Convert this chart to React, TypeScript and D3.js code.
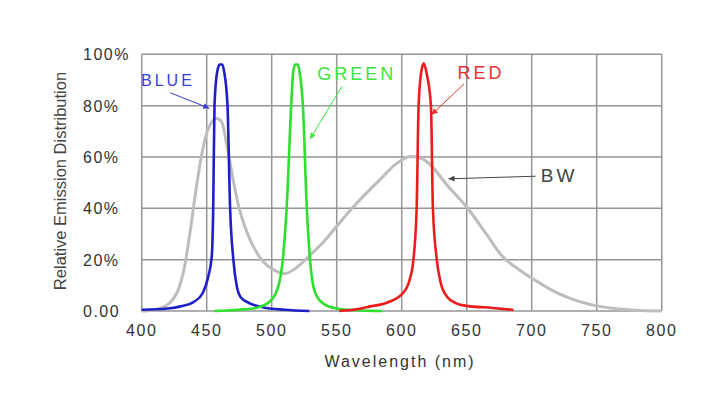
import React, { useEffect, useRef } from "react";
import * as d3 from "d3";

// wavelength (nm), relative emission (%)
const blue: [number, number][] = [
  [400, 0.5], [420, 1], [430, 1.8], [440, 3.5], [447, 7], [451, 13], [454, 22], [455, 40],
  [456, 80], [458, 93], [460, 96], [462, 96], [463.5, 93], [466, 80], [468, 40], [470.5, 20],
  [473, 10], [476, 5.5], [483, 3], [493, 1.5], [510, 0.5], [529, 0],
];
const green: [number, number][] = [
  [456, 0], [475, 0.5], [488, 1.2], [498, 3.5], [504, 8], [507, 14], [508.5, 20], [511.5, 40],
  [515, 80], [516.5, 93], [518, 96], [520, 96], [521.5, 93], [524, 80], [527, 40], [529.5, 20],
  [531.5, 11], [535, 5.5], [541, 2.5], [550, 1], [565, 0.3], [585, 0],
];
const red: [number, number][] = [
  [552, 0], [565, 0.7], [575, 1.7], [590, 3.5], [601, 7], [606, 12], [609, 20], [611.5, 40],
  [613, 80], [615, 93], [617, 96.5], [619, 93], [622.5, 80], [624, 40], [627, 20],
  [630, 11], [635, 5.5], [642, 3], [650, 2], [670, 1.2], [686, 0.4],
];
const bw: [number, number][] = [
  [400, 0], [410, 0.5], [420, 2.5], [427, 7], [432, 15], [437, 30], [442, 48], [447, 63],
  [452, 72], [457, 75], [461, 74], [465, 66], [470, 52], [475, 40], [480, 32], [486, 25],
  [493, 19.5], [500, 16.5], [510, 14.5], [518, 16.5], [530, 22], [540, 27], [550, 33],
  [560, 39], [573, 46], [583, 51], [595, 57], [605, 60], [615, 59.5], [622, 57], [635, 49],
  [650, 40.5], [665, 30], [678, 21], [690, 16.2], [701, 12.5], [715, 8.2], [729, 5],
  [740, 3.2], [750, 2], [765, 0.9], [780, 0.3], [800, 0],
];

const xTicks = [400, 450, 500, 550, 600, 650, 700, 750, 800];
const yTicks = [0, 20, 40, 60, 80, 100];
const yTickLabels = ["0.00", "20%", "40%", "60%", "80%", "100%"];

const series = [
  { name: "BW", data: bw, color: "#bdbdbd", width: 3, smooth: true },
  { name: "BLUE", data: blue, color: "#1f1fc8", width: 2.6, smooth: false },
  { name: "GREEN", data: green, color: "#2ee02e", width: 2.6, smooth: false },
  { name: "RED", data: red, color: "#ec1c1c", width: 2.6, smooth: false },
];

// label text, label position, arrow from -> to (nm, %)
const labels = [
  { text: "BLUE", color: "#3b3bd6", size: 16, at: [399.5, 87.5], from: [422, 85], to: [452, 79] },
  { text: "GREEN", color: "#3fe23f", size: 18, at: [535, 90], from: [554, 87.5], to: [529.5, 67] },
  { text: "RED", color: "#e83030", size: 18, at: [643, 90.5], from: [648, 88.5], to: [623, 76.5] },
  { text: "BW", color: "#444", size: 19, at: [707, 50.3], from: [703, 52.5], to: [636, 51.5] },
];

const font = "Liberation Sans, Arial, sans-serif";

export default function App() {
  const svgRef = useRef<SVGSVGElement>(null);

  useEffect(() => {
    if (!svgRef.current) return;
    const svg = d3.select(svgRef.current);
    svg.selectAll("*").remove();

    const x = d3.scaleLinear().domain([400, 800]).range([141.7, 661.7]);
    const y = d3.scaleLinear().domain([0, 100]).range([311, 54.3]);

    const defs = svg.append("defs");
    labels.forEach((l, i) => {
      defs.append("marker")
        .attr("id", `arr-${i}`)
        .attr("viewBox", "0 0 10 10")
        .attr("refX", 10)
        .attr("refY", 5)
        .attr("markerWidth", 9)
        .attr("markerHeight", 6)
        .attr("markerUnits", "userSpaceOnUse")
        .attr("orient", "auto")
        .append("path")
        .attr("d", "M0,0L10,5L0,10z")
        .attr("fill", l.color);
    });

    // grid
    const grid = svg.append("g").attr("stroke", "#959595").attr("stroke-width", 1.5);
    grid.selectAll(".vx").data(xTicks).join("line")
      .attr("x1", (d) => x(d)).attr("x2", (d) => x(d))
      .attr("y1", y(0)).attr("y2", y(100));
    grid.selectAll(".hy").data(yTicks).join("line")
      .attr("x1", x(400)).attr("x2", x(800))
      .attr("y1", (d) => y(d)).attr("y2", (d) => y(d));

    // tick labels
    svg.append("g").selectAll("text").data(xTicks).join("text")
      .attr("x", (d) => x(d))
      .attr("y", 336)
      .attr("text-anchor", "middle")
      .attr("font-family", font)
      .attr("font-size", 16)
      .attr("letter-spacing", 1.5)
      .attr("fill", "#333")
      .text((d) => d);

    svg.append("g").selectAll("text").data(yTicks).join("text")
      .attr("x", 83)
      .attr("y", (d) => y(d) + 6)
      .attr("font-family", font)
      .attr("font-size", 16)
      .attr("letter-spacing", 1.5)
      .attr("fill", "#333")
      .text((_d, i) => yTickLabels[i]);

    // axis titles
    svg.append("text")
      .attr("transform", `translate(66,181) rotate(-90)`)
      .attr("text-anchor", "middle")
      .attr("font-family", font)
      .attr("font-size", 16.5)
      .attr("fill", "#444")
      .text("Relative Emission Distribution");

    svg.append("text")
      .attr("x", 400)
      .attr("y", 367)
      .attr("text-anchor", "middle")
      .attr("font-family", font)
      .attr("font-size", 16)
      .attr("letter-spacing", 2)
      .attr("fill", "#333")
      .text("Wavelength (nm)");

    // curves
    const mono = d3.line<[number, number]>()
      .x((d) => x(d[0]))
      .y((d) => y(d[1]))
      .curve(d3.curveMonotoneX);
    const soft = d3.line<[number, number]>()
      .x((d) => x(d[0]))
      .y((d) => y(d[1]))
      .curve(d3.curveCatmullRom.alpha(0.5));

    svg.append("g").selectAll("path").data(series).join("path")
      .attr("d", (s) => (s.smooth ? soft(s.data) : mono(s.data)))
      .attr("fill", "none")
      .attr("stroke", (s) => s.color)
      .attr("stroke-width", (s) => s.width)
      .attr("stroke-linejoin", "round");

    // annotations
    const ann = svg.append("g");
    labels.forEach((l, i) => {
      ann.append("line")
        .attr("x1", x(l.from[0])).attr("y1", y(l.from[1]))
        .attr("x2", x(l.to[0])).attr("y2", y(l.to[1]))
        .attr("stroke", l.color)
        .attr("stroke-width", 1)
        .attr("marker-end", `url(#arr-${i})`);
      ann.append("text")
        .attr("x", x(l.at[0]))
        .attr("y", y(l.at[1]))
        .attr("font-family", font)
        .attr("font-size", l.size)
        .attr("letter-spacing", 3)
        .attr("fill", l.color)
        .text(l.text);
    });
  }, []);

  return (
    <svg
      ref={svgRef}
      width={728}
      height={398}
      style={{ position: "absolute", left: 0, top: 0, background: "#fff" }}
    />
  );
}
